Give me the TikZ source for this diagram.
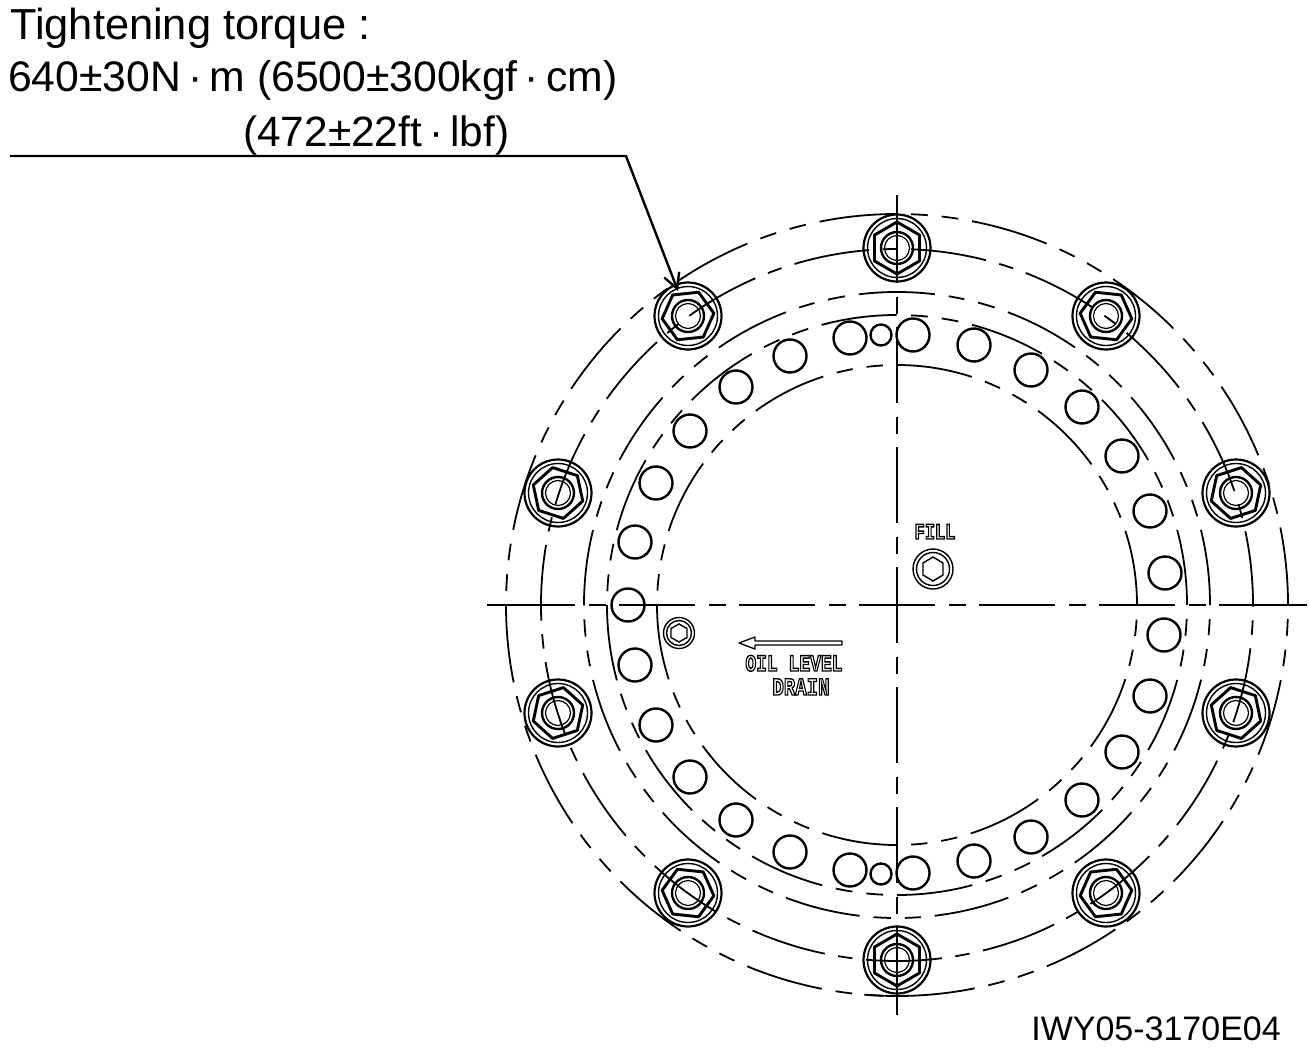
\documentclass[tikz,border=0pt]{standalone}
\usepackage{fontspec}
\setmainfont{Liberation Sans}
\newfontfamily\stencilfont{Liberation Mono}[BoldFont={Liberation Mono Bold}]
\usetikzlibrary{arrows.meta}
\newcommand{\outlined}[1]{\special{pdf:code 1 Tr 1.1 w}\stencilfont\bfseries #1\special{pdf:code 0 Tr}}
\tikzset{
  x=1pt,y=-1pt,
  bigtext/.style={inner sep=0pt,anchor=base west},
  marktext/.style={inner sep=0pt,anchor=base,yscale=1.3},
  cline/.style={line width=2pt,dash pattern=on 76pt off 14pt on 17pt off 13pt},
  ringbase/.style={line width=1.8pt},
}
\begin{document}
\begin{tikzpicture}
\useasboundingbox (0,0) rectangle (1309,1057);
% rings
\draw[ringbase,dash pattern=on 78pt off 14pt on 16.8pt off 14pt on 16.75pt off 14pt,dash phase=78pt] (897,214) arc[start angle=-90,delta angle=180,radius=391];
\draw[ringbase,dash pattern=on 78pt off 14pt on 16.8pt off 14pt on 16.75pt off 14pt] (897,214) arc[start angle=-90,delta angle=-180,radius=391];
\draw[ringbase] (897,214) ++(0,782) arc[start angle=90,delta angle=4.8,radius=391];
\draw[ringbase,dash pattern=on 76pt off 13.7pt on 14.5pt off 13.53pt,dash phase=103.73pt] (897,249) arc[start angle=-90,delta angle=360,radius=356];
\draw[ringbase,dash pattern=on 76pt off 14pt on 16pt off 14pt on 17.28pt off 14pt,dash phase=38pt] (897,292) arc[start angle=-90,delta angle=360,radius=313];
\draw[ringbase,dash pattern=on 76pt off 14pt on 16.9pt off 14pt on 16.94pt off 14pt,dash phase=76pt] (897,315) arc[start angle=-90,delta angle=360,radius=290];
\draw[ringbase,dash pattern=on 76pt off 14pt on 16.4pt off 14pt on 16.4pt off 14pt] (897,365) arc[start angle=-90,delta angle=360,radius=240];
% bolts
\foreach \n/\x/\y/\r in {a/897/248/0,b/1106/316/36,c1/1236/493/72,d/1236/713/108,e/1106/893/144,f/897/960/180,g/688/893/216,h/558/713/252,i/558/493/288,j/688/316/324}{
  \begin{scope}[shift={(\x,\y)}]
    \coordinate (bolt\n) at (0,0);
    \draw[line width=2.2pt] (0,0) circle[radius=33.5];
    \draw[line width=1.4pt] (0,0) circle[radius=29.5];
    \draw[line width=2.9pt,line join=round] (90+\r:26)--(30+\r:26)--(-30+\r:26)--(-90+\r:26)--(-150+\r:26)--(150+\r:26)--cycle;
    \draw[line width=2.4pt] (0,0) circle[radius=16];
    \draw[line width=1.2pt] (0,0) circle[radius=12.5];
  \end{scope}
}
% holes
\foreach \x/\y in {913/335,974/345,1031/370,1082/407,1122/456,1150/511,1165/573,1164/635,1150/696,1122/752,1082/800,1031/837,974/861,913/873,850/338,790/356,736/387,690/431,656/483,635/542,628/605,635/665,656/725,690/777,736/820,790/852,850/870}{
  \draw[line width=2.4pt] (\x,\y) circle[radius=16.5];
}
\draw[line width=2.4pt] (881,335) circle[radius=10.5];
\draw[line width=2.4pt] (881,874) circle[radius=10.5];
% centre lines
\draw[cline] (499,605) -- (1295,605);
\draw[cline] (897,207) -- (897,1003);
\draw[line width=2pt] (487,605) -- (499,605);
\draw[line width=2pt] (1219,605) -- (1307,605);
\draw[line width=2pt] (897,195) -- (897,207);
\draw[line width=2pt] (897,927) -- (897,1015);
% plugs
\coordinate (fillplug) at (933,569);
\draw[line width=1.4pt] (fillplug) circle[radius=20];
\draw[line width=1.4pt] (fillplug) circle[radius=16.5];
\draw[line width=1.4pt] (933,557)--(943,563)--(943,575)--(933,581)--(923,575)--(923,563)--cycle;
\coordinate (drainplug) at (679,633);
\draw[line width=1.4pt] (drainplug) circle[radius=15.5];
\draw[line width=1.4pt] (drainplug) circle[radius=12.5];
\draw[line width=1.4pt] (679,624)--(687,628.5)--(687,637.5)--(679,642)--(671,637.5)--(671,628.5)--cycle;
% oil level arrow
\coordinate (oilA) at (842,641);
\draw[line width=1.3pt,line join=round] (oilA) -- (755,641) -- (755,637) -- (739,643) -- (755,649) -- (755,645) -- (842,645) -- cycle;
% stencil labels
\node[marktext] (filltxt) at (935,539) {\fontsize{17}{17}\selectfont\outlined{FILL}};
\node[marktext] (oiltxt) at (794,671) {\fontsize{18}{18}\selectfont\outlined{OIL LEVEL}};
\node[marktext] (draintxt) at (801,695) {\fontsize{19}{19}\selectfont\outlined{DRAIN}};
% texts
\node[bigtext,font=\fontsize{43.4}{43.4}\selectfont] (t1) at (10,40) {Tightening torque :};
\node[bigtext,font=\fontsize{42.7}{42.7}\selectfont] (t2) at (8,92) {640±30N\,·\,m (6500±300kgf\,·\,cm)};
\node[bigtext,font=\fontsize{42.4}{42.4}\selectfont] (t3) at (243,146) {(472±22ft\,·\,lbf)};
\node[inner sep=0pt,anchor=base east,font=\fontsize{34}{34}\selectfont] (code) at (1281,1040) {IWY05-3170E04};
% leader
\coordinate (leadA) at (10,156);
\coordinate (leadB) at (626,156);
\coordinate (leadC) at (678,291);
\draw[line width=2.4pt,-{Straight Barb[length=15pt,width=16pt,line width=2.4pt]}] (leadA) -- (leadB) -- (leadC);
\end{tikzpicture}
\end{document}
